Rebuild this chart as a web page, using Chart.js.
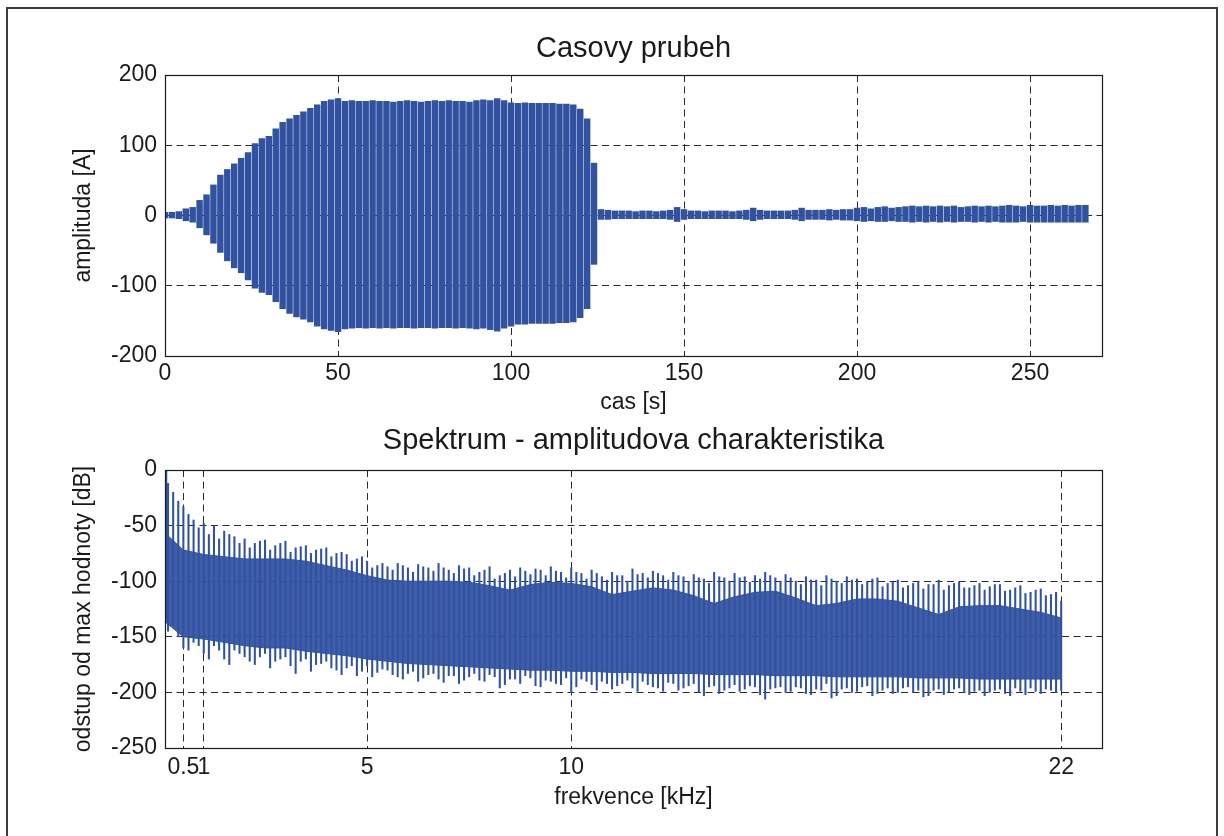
<!DOCTYPE html>
<html>
<head>
<meta charset="utf-8">
<script src="https://cdn.jsdelivr.net/npm/chart.js@4.4.1/dist/chart.umd.min.js"></script>
<style>
  html, body { margin: 0; padding: 0; background: #fff; overflow: hidden; }
  #frame {
    position: absolute; left: 6px; top: 7px; width: 1208px; height: 840px;
    border: 2px solid #3a3a3a; border-bottom: none;
  }
  .plot { position: absolute; left: 0; }
  #topPlot { top: 0; }
  #bottomPlot { top: 420px; }
</style>
</head>
<body>
<div id="frame"></div>
<div class="plot" id="topPlot"><canvas id="timeChart" width="1224" height="420"></canvas></div>
<div class="plot" id="bottomPlot"><canvas id="specChart" width="1224" height="416"></canvas></div>
<script>
// ---- time signal: envelope (max / min) read every 2 s ----
const timeS = [
  0, 2, 4, 6, 8, 10, 12, 14, 16, 18, 20, 22, 24, 26, 28, 30,
  32, 34, 36, 38, 40, 42, 44, 46, 48, 50, 52, 54, 56, 58, 60, 62,
  64, 66, 68, 70, 72, 74, 76, 78, 80, 82, 84, 86, 88, 90, 92, 94,
  96, 98, 100, 102, 104, 106, 108, 110, 112, 114, 116, 118, 120, 122, 124, 126,
  128, 130, 132, 134, 136, 138, 140, 142, 144, 146, 148, 150, 152, 154, 156, 158,
  160, 162, 164, 166, 168, 170, 172, 174, 176, 178, 180, 182, 184, 186, 188, 190,
  192, 194, 196, 198, 200, 202, 204, 206, 208, 210, 212, 214, 216, 218, 220, 222,
  224, 226, 228, 230, 232, 234, 236, 238, 240, 242, 244, 246, 248, 250, 252, 254,
  256, 258, 260, 262, 264, 266
];
const ampHi = [
  5, 5, 6, 10, 12, 22, 30, 44, 58, 66, 74, 82, 90, 103, 110, 113,
  124, 133, 138, 143, 148, 153, 158, 163, 165, 167, 163, 164, 163, 163, 164, 163,
  163, 162, 163, 164, 163, 162, 163, 164, 163, 164, 163, 163, 162, 164, 165, 164,
  167, 164, 161, 160, 161, 160, 160, 160, 160, 159, 159, 158, 152, 138, 75, 9,
  8, 7, 7, 7, 6, 7, 7, 6, 7, 8, 12, 9, 7, 7, 6, 7,
  7, 7, 6, 7, 8, 11, 8, 7, 7, 7, 7, 8, 11, 8, 8, 8,
  9, 8, 9, 9, 11, 12, 10, 12, 13, 11, 12, 13, 14, 13, 14, 13,
  14, 13, 14, 12, 13, 14, 13, 14, 13, 14, 15, 14, 13, 15, 14, 14,
  15, 14, 15, 14, 15, 15
];
const ampLo = [
  -4, -4, -5, -8, -10, -18, -28, -40, -53, -65, -75, -82, -92, -104, -110, -113,
  -123, -133, -140, -145, -148, -152, -158, -162, -164, -166, -162, -161, -160, -161, -160, -161,
  -160, -161, -160, -160, -161, -160, -160, -161, -160, -160, -161, -160, -161, -162, -161, -163,
  -165, -161, -158, -155, -155, -154, -154, -154, -154, -153, -153, -152, -146, -133, -70, -6,
  -6, -5, -5, -5, -5, -5, -5, -5, -5, -6, -9, -6, -5, -5, -5, -5,
  -5, -5, -5, -5, -6, -8, -6, -5, -5, -5, -5, -6, -8, -6, -6, -6,
  -7, -6, -7, -7, -8, -9, -8, -9, -9, -8, -9, -9, -10, -9, -10, -9,
  -10, -9, -10, -9, -9, -10, -9, -10, -9, -10, -10, -10, -9, -10, -10, -10,
  -10, -10, -10, -10, -10, -10
];
const timeTicks = [0, 50, 100, 150, 200, 250];
const ampTicks = [-200, -100, 0, 100, 200];

// ---- spectrum: spike extents (two interleaved combs), dense core every 0.5 kHz ----
const spikeF = [
  0.08, 0.25, 0.5, 0.75, 1, 1.25, 1.5, 1.75, 2, 2.25,
  2.5, 2.75, 3, 3.25, 3.5, 3.75, 4, 4.25, 4.5, 4.75,
  5, 5.25, 5.5, 5.75, 6, 6.25, 6.5, 6.75, 7, 7.25,
  7.5, 7.75, 8, 8.25, 8.5, 8.75, 9, 9.25, 9.5, 9.75,
  10, 10.25, 10.5, 10.75, 11, 11.25, 11.5, 11.75, 12, 12.25,
  12.5, 12.75, 13, 13.25, 13.5, 13.75, 14, 14.25, 14.5, 14.75,
  15, 15.25, 15.5, 15.75, 16, 16.25, 16.5, 16.75, 17, 17.25,
  17.5, 17.75, 18, 18.25, 18.5, 18.75, 19, 19.25, 19.5, 19.75,
  20, 20.25, 20.5, 20.75, 21, 21.25, 21.5, 21.75, 22
];
const spikeHi = [
  0, -20, -33, -45, -48, -50, -55, -60, -62, -66,
  -63, -68, -64, -70, -68, -72, -70, -75, -76, -80,
  -82, -86, -87, -84, -88, -85, -88, -84, -90, -86,
  -88, -92, -87, -95, -90, -88, -94, -90, -87, -92,
  -88, -93, -90, -96, -92, -95, -89, -93, -91, -95,
  -92, -96, -94, -98, -92, -97, -93, -96, -95, -92,
  -97, -94, -100, -96, -99, -95, -100, -96, -98, -101,
  -97, -102, -99, -104, -100, -103, -99, -104, -101, -106,
  -102, -105, -103, -108, -104, -110, -107, -112, -118
];
const spikeLo = [
  -135, -140, -160, -155, -165, -158, -170, -162, -168, -175,
  -165, -172, -168, -183, -170, -175, -172, -180, -178, -185,
  -176, -182, -180, -186, -183, -190, -184, -188, -185, -192,
  -186, -189, -184, -196, -188, -192, -187, -195, -190, -193,
  -200, -188, -193, -190, -197, -192, -196, -190, -195, -199,
  -192, -196, -192, -203, -194, -198, -193, -197, -195, -206,
  -196, -200, -195, -201, -197, -192, -203, -196, -199, -194,
  -201, -196, -200, -195, -198, -203, -197, -200, -196, -202,
  -198, -200, -197, -203, -199, -196, -201, -198, -198
];
const spikeF2 = [
  0.125, 0.375, 0.625, 0.875, 1.125, 1.375, 1.625, 1.875, 2.125, 2.375,
  2.625, 2.875, 3.125, 3.375, 3.625, 3.875, 4.125, 4.375, 4.625, 4.875,
  5.125, 5.375, 5.625, 5.875, 6.125, 6.375, 6.625, 6.875, 7.125, 7.375,
  7.625, 7.875, 8.125, 8.375, 8.625, 8.875, 9.125, 9.375, 9.625, 9.875,
  10.125, 10.375, 10.625, 10.875, 11.125, 11.375, 11.625, 11.875, 12.125, 12.375,
  12.625, 12.875, 13.125, 13.375, 13.625, 13.875, 14.125, 14.375, 14.625, 14.875,
  15.125, 15.375, 15.625, 15.875, 16.125, 16.375, 16.625, 16.875, 17.125, 17.375,
  17.625, 17.875, 18.125, 18.375, 18.625, 18.875, 19.125, 19.375, 19.625, 19.875,
  20.125, 20.375, 20.625, 20.875, 21.125, 21.375, 21.625, 21.875
];
const spikeHi2 = [
  -12, -28, -40, -52, -58, -62, -58, -66, -70, -64,
  -72, -66, -74, -69, -75, -71, -78, -74, -82, -78,
  -88, -84, -90, -86, -92, -87, -91, -88, -93, -89,
  -95, -90, -98, -93, -96, -91, -89, -95, -91, -97,
  -92, -98, -93, -99, -95, -100, -94, -97, -93, -99,
  -95, -100, -97, -102, -96, -100, -97, -101, -98, -95,
  -100, -97, -103, -99, -104, -98, -102, -99, -103, -98,
  -105, -101, -106, -102, -107, -103, -108, -102, -106, -104,
  -108, -103, -109, -106, -111, -108, -113, -110
];
const spikeLo2 = [
  -145, -150, -162, -158, -170, -162, -175, -165, -172, -168,
  -178, -170, -176, -172, -181, -174, -178, -184, -176, -181,
  -186, -179, -184, -188, -181, -187, -183, -191, -185, -189,
  -183, -190, -186, -193, -188, -185, -194, -189, -192, -187,
  -195, -190, -198, -192, -194, -189, -199, -193, -196, -191,
  -198, -194, -200, -195, -201, -196, -199, -194, -202, -197,
  -195, -199, -196, -202, -198, -205, -197, -200, -195, -203,
  -198, -201, -196, -200, -204, -198, -202, -197, -200, -199,
  -203, -198, -201, -196, -202, -199, -197, -200
];
const coreF = [
  0, 0.5, 1, 1.5, 2, 2.5, 3, 3.5, 4, 4.5,
  5, 5.5, 6, 6.5, 7, 7.5, 8, 8.5, 9, 9.5,
  10, 10.5, 11, 11.5, 12, 12.5, 13, 13.5, 14, 14.5,
  15, 15.5, 16, 16.5, 17, 17.5, 18, 18.5, 19, 19.5,
  20, 20.5, 21, 21.5, 22
];
const coreHi = [
  -55, -72, -76, -78, -80, -80, -80, -82, -86, -90,
  -95, -99, -100, -100, -100, -101, -104, -108, -103, -101,
  -102, -105, -112, -109, -106, -108, -113, -120, -114, -110,
  -109, -115, -122, -120, -116, -116, -118, -124, -130, -123,
  -122, -122, -125, -128, -133
];
const coreLo = [
  -135, -150, -152, -155, -158, -160, -160, -163, -165, -167,
  -170, -172, -174, -175, -176, -177, -178, -179, -180, -180,
  -181, -181, -182, -182, -183, -183, -183, -184, -184, -184,
  -185, -185, -185, -186, -186, -186, -186, -187, -187, -187,
  -188, -188, -188, -188, -188
];
const freqTicks = [0.5, 1, 5, 10, 22];
const dbTicks = [-250, -200, -150, -100, -50, 0];

const FONT = '"Liberation Sans", Arial, Helvetica, sans-serif';
const BLUE = "#3052a0";
const INK = "#1a1a1a";
const GRID = "#2a2a2a";

// axes box + subplot title (MATLAB style)
const axesBox = {
  id: "axesBox",
  afterDraw(chart, args, opts) {
    const { ctx, chartArea: a } = chart;
    ctx.save();
    ctx.strokeStyle = INK;
    ctx.lineWidth = 1.2;
    ctx.strokeRect(Math.round(a.left) + 0.5, Math.round(a.top) + 0.5,
      Math.round(a.right - a.left), Math.round(a.bottom - a.top));
    ctx.fillStyle = INK;
    ctx.font = "29px " + FONT;
    ctx.textAlign = "center";
    ctx.textBaseline = "alphabetic";
    ctx.fillText(opts.text, (a.left + a.right) / 2, opts.y);
    ctx.restore();
  },
};

function axisX(ticksList, min, max, height, label, labelPad, tickPad) {
  return {
    type: "linear", min, max, offset: false, z: 1,
    afterBuildTicks: (s) => { s.ticks = ticksList.map((v) => ({ value: v })); },
    afterFit: (s) => { s.height = height; },
    grid: { color: GRID, lineWidth: 1, drawTicks: false, offset: false },
    border: { display: false, dash: [7, 4.5] },
    ticks: {
      color: INK, font: { family: FONT, size: 23 }, padding: tickPad,
      maxRotation: 0, autoSkip: false, callback: (v) => String(v),
    },
    title: {
      display: true, text: label, color: INK,
      font: { family: FONT, size: 23 }, padding: { top: 0, bottom: labelPad },
    },
  };
}

function axisY(ticksList, min, max, label) {
  return {
    type: "linear", min, max, z: 1,
    afterBuildTicks: (s) => { s.ticks = ticksList.map((v) => ({ value: v })); },
    afterFit: (s) => { s.width = 165; },
    grid: { color: GRID, lineWidth: 1, drawTicks: false },
    border: { display: false, dash: [7, 4.5] },
    ticks: {
      color: INK, font: { family: FONT, size: 23 }, padding: 8,
      autoSkip: false, callback: (v) => String(v),
    },
    title: {
      display: true, text: label, color: INK,
      font: { family: FONT, size: 23 }, padding: { top: 70, bottom: 0 },
    },
  };
}

/* time plot */
new Chart(document.getElementById("timeChart"), {
  type: "bar",
  data: {
    datasets: [
      {
        data: timeS.map((t, i) => ({ x: t, y: [ampLo[i], ampHi[i]] })),
        backgroundColor: BLUE,
        borderWidth: 0,
        barPercentage: 0.93,
        categoryPercentage: 1,
      },
    ],
  },
  options: {
    responsive: false,
    animation: false,
    events: [],
    layout: { padding: { left: 0, top: 75, right: 122, bottom: 0 } },
    plugins: {
      legend: { display: false },
      tooltip: { enabled: false },
      axesBox: { text: "Casovy prubeh", y: 57 },
    },
    scales: {
      x: axisX(timeTicks, 0, 270.8, 64, "cas [s]", 4, 4),
      y: axisY(ampTicks, -200, 200, "amplituda [A]"),
    },
  },
  plugins: [axesBox],
});

/* spectrum plot */
const spikeStyle = { type: "bar", backgroundColor: BLUE, borderWidth: 0, barThickness: 1.4, grouped: false };

new Chart(document.getElementById("specChart"), {
  type: "bar",
  data: {
    datasets: [
      {
        type: "line",
        data: coreF.map((f, i) => ({ x: f, y: coreHi[i] })),
        borderColor: BLUE,
        borderWidth: 1,
        backgroundColor: "rgba(48, 82, 160, 0.93)",
        fill: "+1",
        pointRadius: 0,
        tension: 0,
      },
      {
        type: "line",
        data: coreF.map((f, i) => ({ x: f, y: coreLo[i] })),
        borderColor: BLUE,
        borderWidth: 1,
        fill: false,
        pointRadius: 0,
        tension: 0,
      },
      {
        ...spikeStyle,
        data: spikeF.map((f, i) => ({ x: f, y: [spikeLo[i], spikeHi[i]] })),
      },
      {
        ...spikeStyle,
        data: spikeF2.map((f, i) => ({ x: f, y: [spikeLo2[i], spikeHi2[i]] })),
      },
    ],
  },
  options: {
    responsive: false,
    animation: false,
    events: [],
    layout: { padding: { left: 0, top: 50, right: 122, bottom: 0 } },
    plugins: {
      legend: { display: false },
      tooltip: { enabled: false },
      axesBox: { text: "Spektrum - amplitudova charakteristika", y: 29 },
    },
    scales: {
      x: axisX(freqTicks, 0.05, 23, 88, "frekvence [kHz]", 25, 6),
      y: axisY(dbTicks, -250, 0, "odstup od max hodnoty [dB]"),
    },
  },
  plugins: [axesBox],
});
</script>
</body>
</html>
